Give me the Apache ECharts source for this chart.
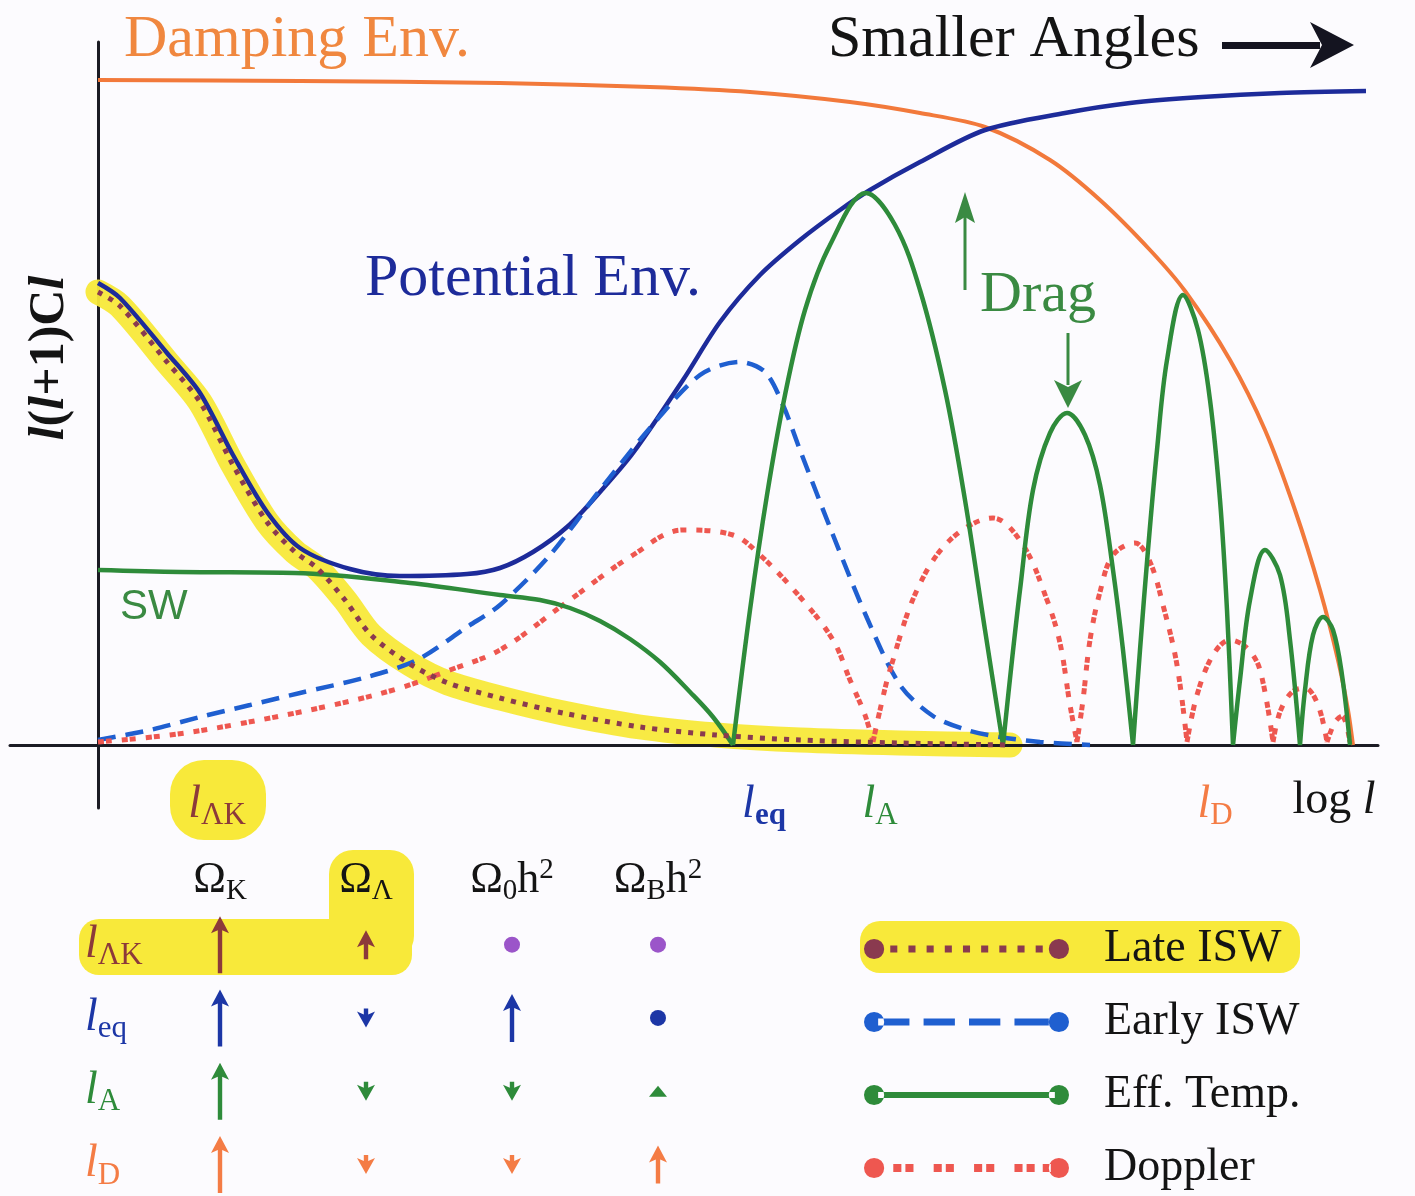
<!DOCTYPE html>
<html>
<head>
<meta charset="utf-8">
<script src="https://cdn.jsdelivr.net/npm/echarts@6/dist/echarts.min.js"></script>
<style>
  html, body { margin: 0; padding: 0; background: #fcfbfe; }
  #chart { width: 1415px; height: 1196px; }
</style>
</head>
<body>
<div id="chart"></div>
<script>
// Schematic CMB anisotropy spectrum: x = log l, y = l(l+1)C_l (arbitrary units)

const dampingEnv = [[0,66.5],[20.2,66.4],[40.2,66.2],[55.2,65.8],[65.2,65.3],[75.2,64.3],[82.2,63.2],[88.7,61.8],[95.2,58.5],[100.2,54.5],[105.2,49.5],[108.7,45.4],[113.2,38.5],[116.7,31.5],[119.7,23.5],[122.2,15.5],[124.0,8.5],[125.0,3.5],[125.5,0]];

const potentialEnv = [[0,46.2],[2.2,44.7],[6.9,39.2],[10.2,35.2],[13.5,29.0],[16.9,23.3],[20.2,19.7],[25.2,17.6],[30.2,16.9],[36.9,17.1],[40.2,17.7],[43.5,19.3],[46.9,21.8],[50.2,25.3],[53.5,29.2],[58.5,36.5],[62.2,42.3],[66.2,47.0],[70.2,50.5],[74.2,53.5],[77.2,55.5],[82.2,58.3],[88.7,61.5],[96.7,63.2],[103.2,64.2],[110.4,64.8],[118.2,65.2],[126.8,65.4]];

const lateISW = [[0,45.3],[2.2,43.9],[6.9,38.3],[10.2,34.3],[13.5,28.0],[16.9,22.3],[19.7,19.3],[21.9,17.7],[24.7,14.5],[27.3,11.0],[31.2,8.1],[35.0,6.2],[40.2,4.7],[46.5,3.2],[54.2,1.8],[61.8,1.0],[70.2,0.5],[80.2,0.2],[91.2,0]];

const earlyISW = [[0,0.5],[5.2,1.5],[10.2,2.8],[15.2,4.0],[20.2,5.2],[26.9,6.8],[31.9,8.5],[36.9,11.8],[40.2,14.0],[45.2,19.0],[50.2,25.5],[55.2,31.7],[60.2,37.0],[64.2,38.3],[66.7,37.3],[68.5,34.0],[70.2,29.5],[73.5,21.0],[76.9,12.7],[80.2,6.0],[83.5,2.9],[86.9,1.5],[90.2,0.8],[94.2,0.3],[99.2,0]];

// effective temperature: SW plateau followed by the acoustic peaks
const effTempArches = [
  [[0,17.5],[8.2,17.3],[19.7,17.2],[31.2,16.2],[40.2,15.0],[44.2,14.5],[47.2,13.7],[50.2,12.4],[53.2,10.6],[56.2,8.3],[59.2,5.3],[61.5,2.8],[63.5,0]],
  [[63.5,0],[65.2,13.5],[66.9,25.0],[68.7,35.0],[70.7,43.5],[73.2,50.0],[76.8,55.2],[79.7,52.0],[82.2,45.5],[84.7,35.5],[86.7,24.5],[88.7,11.5],[90.5,0]],
  [[90.5,0],[91.4,8.5],[92.2,15.5],[93.5,25.5],[95.2,31.2],[96.9,33.2],[98.7,31.0],[100.2,26.0],[101.5,17.5],[102.5,9.5],[103.5,0]],
  [[103.5,0],[104.2,9.5],[105.0,19.5],[105.9,29.5],[106.9,38.5],[108.5,45.0],[110.0,41.5],[111.2,34.5],[112.2,24.5],[112.9,13.5],[113.5,0]],
  [[113.5,0],[114.2,6.5],[115.2,14.5],[116.7,19.5],[118.2,17.0],[119.2,10.5],[120.2,0]],
  [[120.2,0],[120.7,5.5],[121.5,11.0],[122.5,12.8],[123.5,11.5],[124.4,7.0],[125.2,0]]
];

const dopplerArches = [
  [[0,0.3],[7.2,1.0],[13.5,2.0],[23.5,4.0],[30.2,5.7],[35.2,7.5],[40.2,9.5],[46.9,14.3],[53.5,19.0],[58.5,21.5],[63.5,21.0],[66.2,19.0],[70.2,14.8],[73.5,10.5],[75.2,6.5],[76.7,3.0],[77.5,0.3]],
  [[77.5,0.3],[78.2,3.5],[79.2,7.5],[81.9,15.5],[85.2,20.5],[89.5,22.7],[92.5,20.0],[94.9,14.5],[96.2,10.2],[97.2,4.0],[97.9,0.3]],
  [[97.9,0.3],[98.5,4.5],[99.2,10.5],[100.2,15.3],[101.5,19.0],[103.7,20.2],[105.2,18.3],[106.5,14.0],[107.9,8.0],[108.9,0.3]],
  [[108.9,0.3],[109.9,5.0],[111.5,9.0],[113.2,10.5],[114.9,9.7],[116.2,7.5],[117.5,0.3]],
  [[117.5,0.3],[118.2,3.3],[119.4,5.3],[120.7,5.7],[122.0,4.0],[122.9,0.3]],
  [[122.9,0.3],[123.7,2.3],[124.4,2.9],[125.2,0.3]]
];

// characteristic scales marked on the log l axis
const tickPositions = [11.9, 66.6, 78.2, 111.7, 123.6];
const tickLabels = ['ΛK', 'eq', 'A', 'D', 'log'];

// response of each scale to the cosmological parameters
const paramLabels = ['K', 'Λ', '0', 'B'];
const scaleLabels = ['ΛK', 'eq', 'A', 'D'];
const responses = [
  [3, 1.5, 0, 0],
  [3, -1, 2.5, 0],
  [3, -1, -1, 0.6],
  [3, -1, -1, 2]
];

const SERIF = 'Liberation Serif';
const C = {
  damping: '#f2793b', potential: '#1d2b9a', early: '#1f5fd0', doppler: '#ee5750',
  effTemp: '#2e8b3a', late: '#8a3a4f', yellow: '#f8e93a', axis: '#1b1b24'
};
const rowColors = ['#8c3a3a', '#1c36a6', '#2e8b3a', '#f47c45'];
const dotColors = ['#9b55c9', '#1c36a6', '#2e8b3a', '#f47c45'];

function withBreaks(arches) {
  const out = [];
  arches.forEach(function (arch, i) {
    if (i) out.push([arch[0][0], null]);
    arch.forEach(function (p) { out.push(p); });
  });
  return out;
}

function circlePath(cx, cy, r) {
  return 'M' + (cx - r) + ',' + cy + ' A' + r + ',' + r + ' 0 1 0 ' + (cx + r) + ',' + cy +
         ' A' + r + ',' + r + ' 0 1 0 ' + (cx - r) + ',' + cy + ' Z ';
}
function rectPath(x0, x1, h) {
  const y0 = 11 - h / 2, y1 = 11 + h / 2;
  return 'M' + x0 + ',' + y0 + ' L' + x1 + ',' + y0 + ' L' + x1 + ',' + y1 + ' L' + x0 + ',' + y1 + ' Z ';
}
function legendIcon(segs, h) {
  let d = circlePath(11, 11, 10) + circlePath(194, 11, 10);
  segs.forEach(function (s) { d += rectPath(s[0], s[1], h); });
  return 'path://' + d;
}
const iconLate = legendIcon([[27,34],[45,52],[63,70],[81,88],[99,106],[117,124],[135,142],[153,160],[171,178]], 7);
const iconEarly = legendIcon([[15,46],[60,91],[105,136],[150,184]], 7);
const iconEff = legendIcon([[15,190]], 6);
const iconDoppler = legendIcon([[30,38],[42,50],[70,78],[82,90],[110,118],[122,130],[150,158],[162,170],[178,186]], 8);

const ARROW_UNIT = 19;
const ARROW_W = 18;
function upArrowPath(h) {
  if (h < 15) return 'path://M9,0 L18,' + h + ' L0,' + h + ' Z';
  return 'path://M9,0 L18,17 L11.2,14 L11.2,' + h + ' L6.8,' + h + ' L6.8,14 L0,17 Z';
}
function downArrowPath(h) {
  return 'path://M9,' + h + ' L18,' + (h - 16) + ' L11.2,' + (h - 13) + ' L11.2,0 L6.8,0 L6.8,' + (h - 13) + ' L0,' + (h - 16) + ' Z';
}

const tableData = [];
responses.forEach(function (row, r) {
  row.forEach(function (v, c) { tableData.push([c, r, v]); });
});

function lRich(color) {
  return { fontFamily: SERIF, fontStyle: 'italic', fontSize: 46, color: color };
}
function subRich(color, bold) {
  return {
    fontFamily: SERIF, fontSize: 31, color: color, fontWeight: bold ? 'bold' : 'normal',
    padding: [22, 0, 0, 0]
  };
}

const option = {
  backgroundColor: '#fcfbfe',
  animation: false,
  grid: [
    { left: 10, right: 37, top: 42, bottom: 388, outerBoundsMode: 'none' },
    { left: 147, top: 908, width: 584, height: 293, outerBoundsMode: 'none' }
  ],
  xAxis: [
    {
      type: 'value', min: -8.8, max: 128, gridIndex: 0, z: 1.5,
      axisLine: { onZero: true, lineStyle: { color: C.axis, width: 3 } },
      axisTick: { show: false },
      splitLine: { show: false },
      axisLabel: {
        customValues: tickPositions,
        margin: -30,
        formatter: function (v) {
          const i = tickPositions.indexOf(v);
          const t = tickLabels[i];
          if (t === 'log') return '{log|log }{logl|l}';
          const key = ['lk', 'eq', 'a', 'd'][i];
          return '{' + key + '|l}{' + key + 's|' + t + '}';
        },
        rich: {
          lk: lRich(rowColors[0]), lks: subRich(rowColors[0]),
          eq: lRich(rowColors[1]), eqs: subRich(rowColors[1], true),
          a: lRich(rowColors[2]), as: subRich(rowColors[2]),
          d: lRich(rowColors[3]), ds: subRich(rowColors[3]),
          log: { fontFamily: SERIF, fontSize: 46, color: '#141414' },
          logl: { fontFamily: SERIF, fontStyle: 'italic', fontSize: 46, color: '#141414' }
        }
      }
    },
    {
      type: 'category', gridIndex: 1, position: 'top',
      data: paramLabels,
      axisLine: { show: false }, axisTick: { show: false }, splitLine: { show: false },
      axisLabel: {
        interval: 0, margin: 2, hideOverlap: false,
        formatter: function (v) {
          if (v === '0' || v === 'B') return '{om|Ω}{sub|' + v + '}{om|h}{sup|2}';
          return '{om|Ω}{sub|' + v + '}';
        },
        rich: {
          om: { fontFamily: SERIF, fontSize: 44, color: '#141414' },
          sub: { fontFamily: SERIF, fontSize: 29, color: '#141414', padding: [22, 0, 0, 0] },
          sup: { fontFamily: SERIF, fontSize: 29, color: '#141414', padding: [0, 0, 20, 0] }
        }
      }
    }
  ],
  yAxis: [
    {
      type: 'value', min: -6.3, max: 70.3, gridIndex: 0,
      axisLine: { show: true, onZero: true, lineStyle: { color: C.axis, width: 3 } },
      axisTick: { show: false }, axisLabel: { show: false }, splitLine: { show: false }
    },
    {
      type: 'category', gridIndex: 1, inverse: true,
      data: scaleLabels,
      axisLine: { show: false }, axisTick: { show: false }, splitLine: { show: false },
      axisLabel: {
        interval: 0, align: 'left', margin: 62, hideOverlap: false,
        formatter: function (v, i) { return '{l' + i + '|l}{s' + i + '|' + v + '}'; },
        rich: {
          l0: lRich(rowColors[0]), s0: subRich(rowColors[0]),
          l1: lRich(rowColors[1]), s1: subRich(rowColors[1]),
          l2: lRich(rowColors[2]), s2: subRich(rowColors[2]),
          l3: lRich(rowColors[3]), s3: subRich(rowColors[3])
        }
      }
    }
  ],
  legend: {
    orient: 'vertical', left: 864, top: 926, height: 270, padding: 0,
    itemWidth: 205, itemHeight: 22, itemGap: 27,
    selectedMode: false,
    textStyle: { fontFamily: SERIF, fontSize: 46, lineHeight: 46, color: '#141414', padding: [0, 0, 0, 30] },
    data: [
      { name: 'Late ISW', icon: iconLate },
      { name: 'Early ISW', icon: iconEarly },
      { name: 'Eff. Temp.', icon: iconEff },
      { name: 'Doppler', icon: iconDoppler }
    ]
  },
  series: [
    {
      name: 'highlight', type: 'line', data: lateISW, smooth: 0.3, symbol: 'none', silent: true, z: 1,
      lineStyle: { color: C.yellow, width: 25, cap: 'round', join: 'round', opacity: 0.95 }
    },
    {
      name: 'Damping Env.', type: 'line', data: dampingEnv, smooth: 0.3, symbol: 'none', z: 3,
      itemStyle: { color: C.damping }, lineStyle: { color: C.damping, width: 4 }
    },
    {
      name: 'Potential Env.', type: 'line', data: potentialEnv, smooth: 0.3, symbol: 'none', z: 3,
      itemStyle: { color: C.potential }, lineStyle: { color: C.potential, width: 4.5 }
    },
    {
      name: 'Early ISW', type: 'line', data: earlyISW, smooth: 0.3, symbol: 'none', z: 3,
      itemStyle: { color: C.early }, lineStyle: { color: C.early, width: 4.5, type: [18, 10] }
    },
    {
      name: 'Doppler', type: 'line', data: withBreaks(dopplerArches), smooth: 0.35, symbol: 'none', z: 3,
      itemStyle: { color: C.doppler }, lineStyle: { color: C.doppler, width: 5, type: [6, 2, 6, 10] }
    },
    {
      name: 'Eff. Temp.', type: 'line', data: withBreaks(effTempArches), smooth: 0.35, symbol: 'none', z: 4,
      itemStyle: { color: C.effTemp }, lineStyle: { color: C.effTemp, width: 4.5 }
    },
    {
      name: 'Late ISW', type: 'line', data: lateISW, smooth: 0.3, symbol: 'none', z: 4,
      itemStyle: { color: C.late }, lineStyle: { color: C.late, width: 5, type: [5, 7] }
    },
    {
      name: 'parameter response', type: 'scatter', xAxisIndex: 1, yAxisIndex: 1, z: 3,
      data: tableData,
      symbol: function (val) {
        const v = val[2];
        if (v === 0) return 'circle';
        const h = Math.round(ARROW_UNIT * Math.abs(v));
        return v > 0 ? upArrowPath(h) : downArrowPath(h);
      },
      symbolSize: function (val) {
        const v = val[2];
        if (v === 0) return 16;
        return [ARROW_W, Math.round(ARROW_UNIT * Math.abs(v))];
      },
      symbolKeepAspect: false,
      itemStyle: {
        opacity: 1,
        color: function (p) {
          const r = p.value[1];
          return p.value[2] === 0 ? dotColors[r] : rowColors[r];
        }
      }
    }
  ],
  graphic: [
    // marker-pen highlights
    { type: 'rect', z: -1, shape: { x: 170, y: 760, width: 96, height: 80, r: 34 }, style: { fill: C.yellow } },
    { type: 'rect', z: -1, shape: { x: 79, y: 919, width: 333, height: 56, r: 20 }, style: { fill: C.yellow } },
    { type: 'rect', z: -1, shape: { x: 329, y: 850, width: 85, height: 110, r: 24 }, style: { fill: C.yellow } },
    { type: 'rect', z: -1, shape: { x: 860, y: 921, width: 440, height: 52, r: 20 }, style: { fill: C.yellow } },
    // annotations
    { type: 'text', x: 124, y: 40, style: { text: 'Damping Env.', fontFamily: SERIF, fontSize: 60, fill: '#f0873f', verticalAlign: 'middle' } },
    { type: 'text', x: 828, y: 40, style: { text: 'Smaller Angles', fontFamily: SERIF, fontSize: 60, fill: '#141414', verticalAlign: 'middle' } },
    { type: 'rect', shape: { x: 1222, y: 42, width: 98, height: 7 }, style: { fill: '#141420' } },
    { type: 'polygon', shape: { points: [[1354, 45], [1310, 22], [1322, 45], [1310, 68]] }, style: { fill: '#141420' } },
    { type: 'text', x: 365, y: 279, style: { text: 'Potential Env.', fontFamily: SERIF, fontSize: 60, fill: C.potential, verticalAlign: 'middle' } },
    { type: 'text', x: 120, y: 607, style: { text: 'SW', fontFamily: 'Liberation Sans', fontSize: 42, fill: '#3a8a42', verticalAlign: 'middle' } },
    { type: 'text', x: 980, y: 296, style: { text: 'Drag', fontFamily: SERIF, fontSize: 58, fill: '#3a8a42', verticalAlign: 'middle' } },
    { type: 'rect', shape: { x: 963.5, y: 212, width: 3, height: 78 }, style: { fill: '#3a8a42' } },
    { type: 'polygon', shape: { points: [[965, 192], [975, 223], [965, 217], [955, 223]] }, style: { fill: '#3a8a42' } },
    { type: 'rect', shape: { x: 1066.5, y: 333, width: 3, height: 52 }, style: { fill: '#3a8a42' } },
    { type: 'polygon', shape: { points: [[1068, 408], [1054, 380], [1068, 387], [1082, 380]] }, style: { fill: '#3a8a42' } },
    {
      type: 'text', x: 50, y: 358, rotation: Math.PI / 2,
      style: {
        text: '{a|l}{b|(}{a|l}{b|+1)C}{a|l}',
        align: 'center', verticalAlign: 'middle',
        rich: {
          a: { fontFamily: SERIF, fontStyle: 'italic', fontWeight: 'bold', fontSize: 50, fill: '#141414' },
          b: { fontFamily: SERIF, fontWeight: 'bold', fontSize: 50, fill: '#141414' }
        }
      }
    }
  ]
};

const chart = echarts.init(document.getElementById('chart'));
chart.setOption(option);
</script>
</body>
</html>
